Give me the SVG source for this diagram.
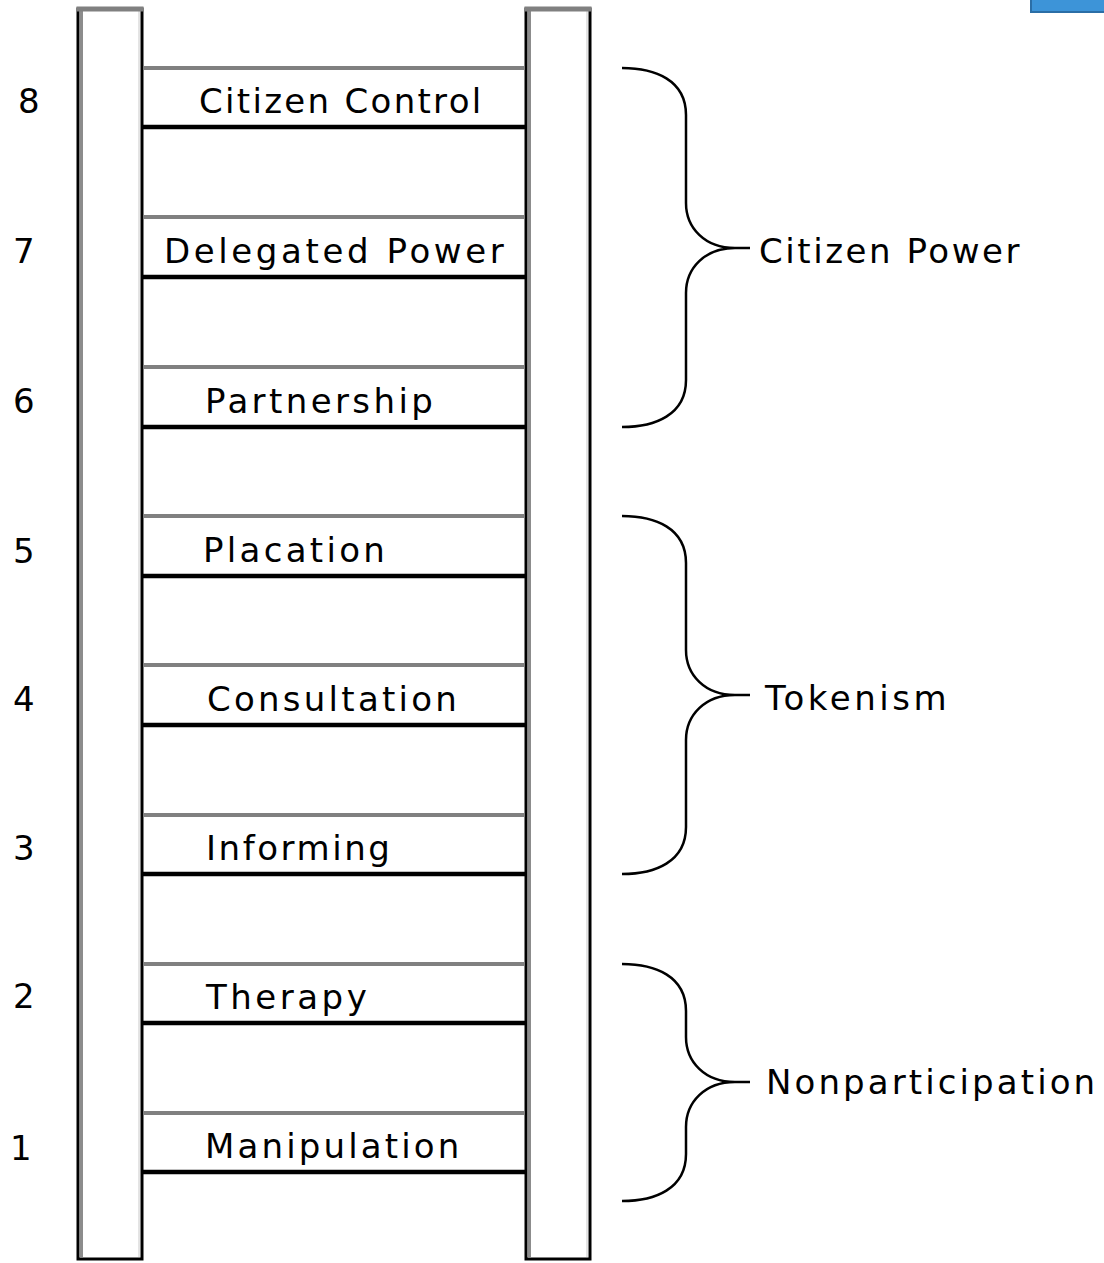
<svg xmlns="http://www.w3.org/2000/svg" width="1104" height="1263" viewBox="0 0 1104 1263">
<style>
text{font-family:"DejaVu Sans","Liberation Sans",sans-serif;font-size:34px;fill:#000;letter-spacing:2.8px}
.num{letter-spacing:0}
.rail{fill:#fff;stroke:#000;stroke-width:3}
.railtop{stroke:#808080;stroke-width:5}
.railin{stroke:#8c8c8c;stroke-width:3}
.railr{stroke:#e4e4e4;stroke-width:2}
.rg{stroke:#808080;stroke-width:4}
.rb{stroke:#000;stroke-width:4.5}
.brace{fill:none;stroke:#000;stroke-width:2.5}
</style>
<rect x="0" y="0" width="1104" height="1263" fill="#fff"/>
<rect id="corner" x="1031" y="-2" width="76" height="14" fill="#3d94d8" stroke="#2b6ea6" stroke-width="2"/>
<g id="left-rail">
<rect class="rail" x="78" y="9" width="64" height="1250"/>
<line class="railin" x1="81.5" y1="11" x2="81.5" y2="1257"/>
<line class="railr" x1="139" y1="11" x2="139" y2="1257"/>
<line class="railtop" x1="76.5" y1="9" x2="143.5" y2="9"/>
</g>
<g id="right-rail">
<rect class="rail" x="526" y="9" width="64" height="1250"/>
<line class="railin" x1="529.5" y1="11" x2="529.5" y2="1257"/>
<line class="railr" x1="587" y1="11" x2="587" y2="1257"/>
<line class="railtop" x1="524.5" y1="9" x2="591.5" y2="9"/>
</g>
<g id="rung8"><line class="rg" x1="143" y1="68" x2="525" y2="68"/><line class="rb" x1="143" y1="127" x2="525" y2="127"/><text x="199" y="113" style="letter-spacing:2.3px">Citizen Control</text><text class="num" x="18" y="113">8</text></g>
<g id="rung7"><line class="rg" x1="143" y1="217" x2="525" y2="217"/><line class="rb" x1="143" y1="277" x2="525" y2="277"/><text x="164" y="263" style="letter-spacing:3.6px">Delegated Power</text><text class="num" x="13" y="263">7</text></g>
<g id="rung6"><line class="rg" x1="143" y1="367" x2="525" y2="367"/><line class="rb" x1="143" y1="427" x2="525" y2="427"/><text x="205" y="413" style="letter-spacing:3.4px">Partnership</text><text class="num" x="13" y="413">6</text></g>
<g id="rung5"><line class="rg" x1="143" y1="516" x2="525" y2="516"/><line class="rb" x1="143" y1="576" x2="525" y2="576"/><text x="203" y="562" style="letter-spacing:3.3px">Placation</text><text class="num" x="13" y="563">5</text></g>
<g id="rung4"><line class="rg" x1="143" y1="665" x2="525" y2="665"/><line class="rb" x1="143" y1="725" x2="525" y2="725"/><text x="207" y="711" style="letter-spacing:3.25px">Consultation</text><text class="num" x="13" y="711">4</text></g>
<g id="rung3"><line class="rg" x1="143" y1="815" x2="525" y2="815"/><line class="rb" x1="143" y1="874" x2="525" y2="874"/><text x="206" y="860" style="letter-spacing:2.55px">Informing</text><text class="num" x="13" y="860">3</text></g>
<g id="rung2"><line class="rg" x1="143" y1="964" x2="525" y2="964"/><line class="rb" x1="143" y1="1023" x2="525" y2="1023"/><text x="206" y="1009" style="letter-spacing:3.5px">Therapy</text><text class="num" x="13" y="1008">2</text></g>
<g id="rung1"><line class="rg" x1="143" y1="1113" x2="525" y2="1113"/><line class="rb" x1="143" y1="1172" x2="525" y2="1172"/><text x="205" y="1158" style="letter-spacing:3.15px">Manipulation</text><text class="num" x="10" y="1160">1</text></g>
<g id="connectors">
<path class="brace" d="M622,68 C655,68 686,80 686,115 L686,203 C686,228 705,248 735,248 L750,248 M735,248 C705,248 686,268 686,293 L686,380 C686,415 655,427 622,427"/>
<path class="brace" d="M622,516 C655,516 686,528 686,563 L686,650 C686,675 705,695 735,695 L750,695 M735,695 C705,695 686,715 686,740 L686,827 C686,862 655,874 622,874"/>
<path class="brace" d="M622,964 C655,964 686,976 686,1011 L686,1037 C686,1062 705,1082 735,1082 L750,1082 M735,1082 C705,1082 686,1102 686,1127 L686,1154 C686,1189 655,1201 622,1201"/>
</g>
<g id="group-citizen-power"><text x="759" y="263" style="letter-spacing:2.55px">Citizen Power</text></g>
<g id="group-tokenism"><text x="765" y="710" style="letter-spacing:3.5px">Tokenism</text></g>
<g id="group-nonparticipation"><text x="766" y="1094" style="letter-spacing:3.1px">Nonparticipation</text></g>
</svg>
